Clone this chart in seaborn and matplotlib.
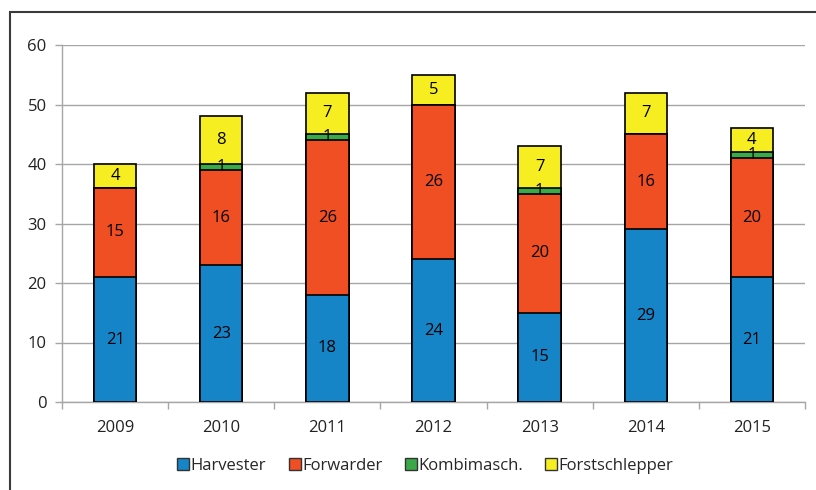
import numpy as np
import pandas as pd
import matplotlib
matplotlib.use("Agg")
import matplotlib.pyplot as plt
import seaborn as sns
from matplotlib.patches import Rectangle
from matplotlib.lines import Line2D

years = ["2009", "2010", "2011", "2012", "2013", "2014", "2015"]
harvester = [21, 23, 18, 24, 15, 29, 21]
forwarder = [15, 16, 26, 26, 20, 16, 20]
kombi = [0, 1, 1, 0, 1, 0, 1]
forstschlepper = [4, 8, 7, 5, 7, 7, 4]

series_names = ["Harvester", "Forwarder", "Kombimasch.", "Forstschlepper"]
colors = ["#1585C8", "#F04E23", "#3AAA48", "#F7EE22"]

sns.set_theme(style="white")
plt.rcParams["font.family"] = ["Open Sans", "DejaVu Sans"]

df = pd.DataFrame({"Jahr": years, "Harvester": harvester, "Forwarder": forwarder,
                   "Kombimasch.": kombi, "Forstschlepper": forstschlepper})
cum = df[series_names].cumsum(axis=1)

fig = plt.figure(figsize=(8.16, 4.9), dpi=100)
ax = fig.add_axes([62 / 816, 1 - 402 / 490, (805 - 62) / 816, (402 - 45) / 490])

# stacked bars: draw cumulative totals from top down
for name, col in reversed(list(zip(series_names, colors))):
    sns.barplot(x=df["Jahr"], y=cum[name], color=col, ax=ax, width=0.4,
                edgecolor="black", linewidth=1.2, saturation=1, zorder=3)

# value labels in segment centers
for i in range(len(years)):
    base = 0
    for name in series_names:
        v = df[name].iloc[i]
        if v > 0:
            ax.text(i, base + v / 2, str(v), ha="center", va="center",
                    fontsize=12, color="black", zorder=5)
        base += v

ax.set_xlim(-0.5, 6.5)
ax.set_ylim(0, 60)
ax.set_yticks(range(0, 61, 10))
ax.yaxis.grid(True, color="#A6A6A6", linewidth=1, zorder=0)
ax.set_axisbelow(True)
ax.set_xlabel("")
ax.set_ylabel("")
for s in ["top", "right"]:
    ax.spines[s].set_visible(False)
for s in ["left", "bottom"]:
    ax.spines[s].set_color("#A6A6A6")
    ax.spines[s].set_linewidth(1)
ax.set_xticks(np.arange(-0.5, 7, 1), minor=True)
ax.tick_params(axis="x", which="major", length=0, pad=13, labelsize=12, colors="#222222")
ax.tick_params(axis="x", which="minor", length=5, width=1, color="#A6A6A6", direction="out")
ax.tick_params(axis="y", length=5, width=1, color="#A6A6A6", direction="out", pad=6,
               labelsize=12, labelcolor="#222222", left=True)
ax.xaxis.set_tick_params(bottom=True, which="both")

handles = [Line2D([0], [0], marker="s", linestyle="", markersize=8, markerfacecolor=c,
                  markeredgecolor="#333333", markeredgewidth=1) for c in colors]
fig.legend(handles, series_names, loc="center", bbox_to_anchor=(425 / 816, 1 - 466 / 490),
           ncol=4, frameon=False, fontsize=12, handletextpad=0.05, columnspacing=1.3,
           handlelength=0.8)

# chart area border
fig.patches.append(Rectangle((10 / 816, -0.1), 1.2, 1 - 12 / 490 + 0.1, transform=fig.transFigure,
                             fill=False, edgecolor="#3A3A3A", linewidth=1.5, zorder=0))

fig.savefig("out.png", dpi=100)
